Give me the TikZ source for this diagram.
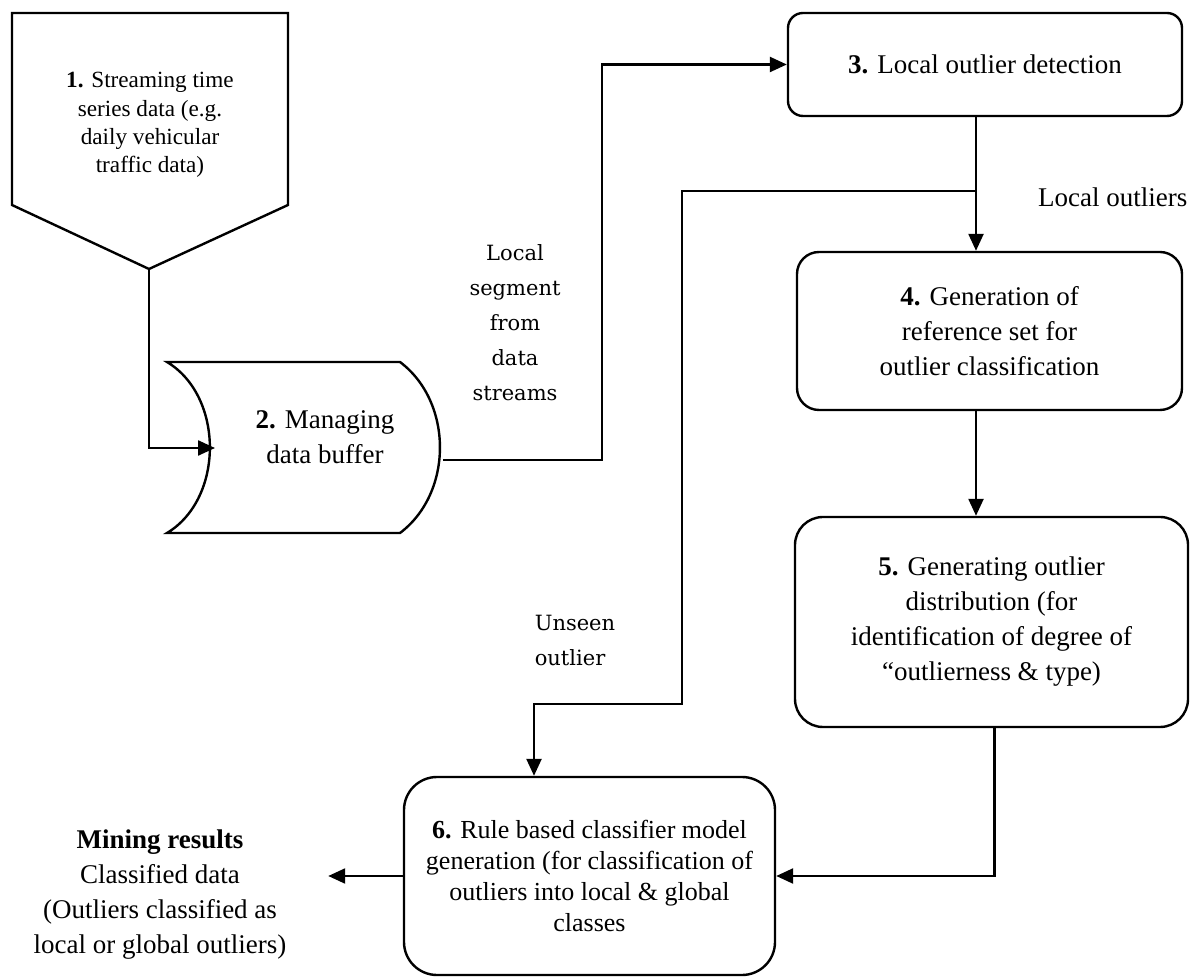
\documentclass[tikz,border=0pt]{standalone}
\usepackage{fontspec}
\setmainfont{Liberation Serif}
\newfontfamily\seglabelfont{DejaVu Serif}
\usepackage{tikz}
\usetikzlibrary{arrows.meta, positioning, calc}

\begin{document}
\begin{tikzpicture}[
    x=0.5pt, y=-0.5pt,
    box/.style={rectangle, rounded corners=#1, draw, line width=1.2pt, align=center, font=\fontsize{13.5}{17.5}\selectfont, inner sep=0pt},
    box/.default=8pt,
    plain/.style={align=center, font=\fontsize{13.5}{17.5}\selectfont, inner sep=0pt},
    seglabel/.style={align=center, inner sep=0pt, font=\seglabelfont\fontsize{10.5}{17.5}\selectfont},
    line/.style={line width=1.2pt},
    arrow/.style={line width=1.2pt, -{Triangle[length=8.5pt, width=7.5pt]}}
]
\useasboundingbox (0,0) rectangle (1199,977);

\node[plain, font=\fontsize{11.6}{14.2}\selectfont] (stream) at (150,125) {\textbf{1.} Streaming time\\series data (e.g.\\daily vehicular\\traffic data)};
\draw[line] (12,13) -- (288,13) -- (288,205) -- (149,269) coordinate (streamtip) -- (12,205) -- cycle;

\node[plain] (buffer) at (325,437) {\textbf{2.} Managing\\data buffer};
\draw[line] (280,362) -- (400,362) to[bend left=53] (400,533) -- (167,533) to[bend right=59] (167,362) -- cycle;
\coordinate (bufin) at (215,448);
\coordinate (bufout) at (443,460);

\node[box=7.5pt, minimum width=197pt, minimum height=51.5pt] (detect) at (985,64.5) {\textbf{3.} Local outlier detection};
\node[box=11pt, minimum width=192.5pt, minimum height=79pt] (refset) at (989.5,331) {\textbf{4.} Generation of\\reference set for\\outlier classification};
\node[box=14pt, minimum width=196.5pt, minimum height=105pt] (distrib) at (991.5,622) {\textbf{5.} Generating outlier\\distribution (for\\identification of degree of\\``outlierness \& type)};
\node[box=16.5pt, minimum width=185.5pt, minimum height=99pt, font=\fontsize{13}{15.5}\selectfont] (rules) at (589.5,876) {\textbf{6.} Rule based classifier model\\generation (for classification of\\outliers into local \& global\\classes};
\node[plain] (mining) at (160,895) {\textbf{Mining results}\\Classified data\\(Outliers classified as\\local or global outliers)};

\node[seglabel] (segmentlbl) at (515,323) {Local\\segment\\from\\data\\streams};
\node[seglabel, align=left] (unseenlbl) at (575,640) {Unseen\\outlier};

\coordinate (split) at (976,191);
\coordinate (unseenbend) at (682,704);

\draw[arrow] (streamtip) |- (bufin);
\draw[arrow] (bufout) -- ++(159,0) |- (detect.west);
\draw[arrow] (split |- detect.south) -- node[plain, pos=0.6, right=30.5pt] {Local outliers} (split |- refset.north);
\draw[arrow] (split |- refset.south) -- (split |- distrib.north);
\draw[arrow] (split) -| (unseenbend) -| ([xshift=-27.75pt]rules.north);
\draw[arrow] ([xshift=1.5pt]distrib.south) |- (rules.east);
\draw[arrow, shorten >=20.75pt] (rules.west) -- (rules.west -| mining.east);

\end{tikzpicture}
\end{document}
